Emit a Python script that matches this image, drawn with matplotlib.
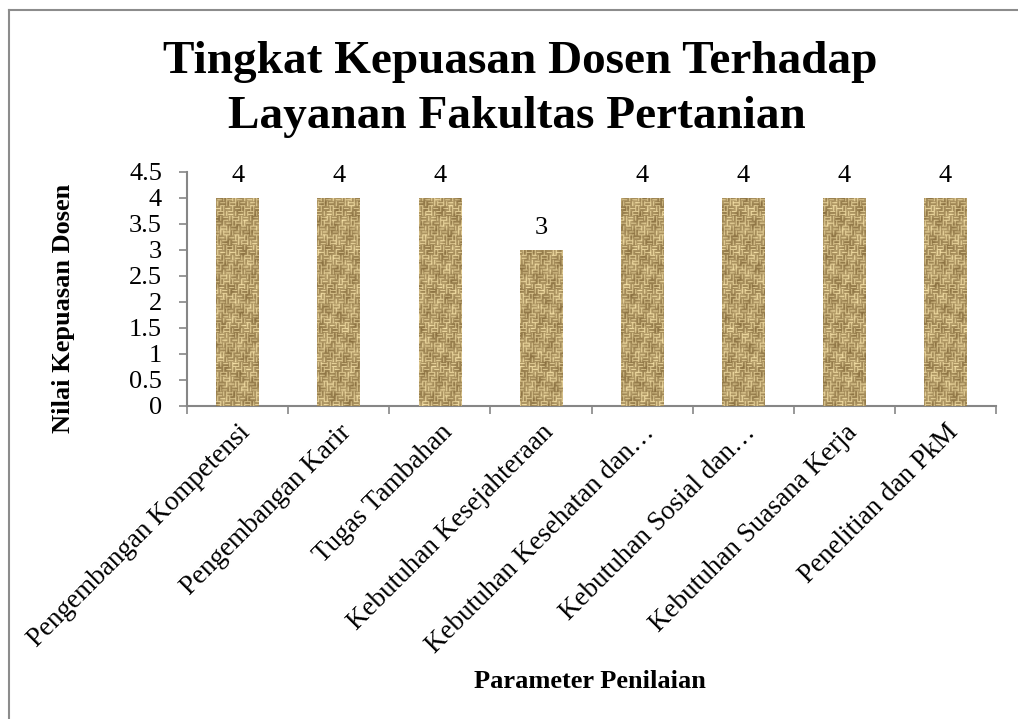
import numpy as np
import matplotlib
matplotlib.use("Agg")
import matplotlib.pyplot as plt
from matplotlib.lines import Line2D

categories = ["Pengembangan Kompetensi", "Pengembangan Karir", "Tugas Tambahan",
              "Kebutuhan Kesejahteraan", "Kebutuhan Kesehatan dan…",
              "Kebutuhan Sosial dan…", "Kebutuhan Suasana Kerja", "Penelitian dan PkM"]
values = [4, 4, 4, 3, 4, 4, 4, 4]
yticks = [0, 0.5, 1, 1.5, 2, 2.5, 3, 3.5, 4, 4.5]
ytick_labels = ["0", "0.5", "1", "1.5", "2", "2.5", "3", "3.5", "4", "4.5"]
title_lines = ["Tingkat Kepuasan Dosen Terhadap", "Layanan Fakultas Pertanian"]

plt.rcParams['font.family'] = ['Liberation Serif', 'DejaVu Serif']

W, H = 1018, 719
fig = plt.figure(figsize=(W / 100, H / 100), dpi=100)
fig.patch.set_facecolor("white")

# outer chart-area border (left and top visible)
fig.add_artist(Line2D([8.5 / W, 8.5 / W], [0, 1 - 9.5 / H], transform=fig.transFigure,
                      color="#8c8c8c", lw=1.5))
fig.add_artist(Line2D([8.5 / W, 1], [1 - 9.5 / H, 1 - 9.5 / H], transform=fig.transFigure,
                      color="#8c8c8c", lw=1.5))

ax = fig.add_axes([187 / W, 1 - 406 / H, (996 - 187) / W, (406 - 172) / H])
n = len(categories)
x = np.arange(n)
bars = ax.bar(x, values, width=0.42, color="#c8a870", edgecolor="none", zorder=2)

# woven burlap texture (deterministic pattern, purely decorative)
th, tw = 240, 820
yy, xx = np.mgrid[0:th, 0:tw].astype(float)
cell = 5
ci = (yy // cell).astype(int)
cj = ((xx + (yy // (2 * cell)) * 2) // cell).astype(int)
horiz = ((ci + cj) % 2 == 0)
stripe = np.where(horiz, (yy % 3 == 1), (xx % 3 == 1)).astype(float)
mott = (np.sin(xx * 0.37 + yy * 0.11) + np.sin(yy * 0.29 - xx * 0.13 + 1.3)
        + np.sin(xx * 0.71 + yy * 0.53 + 2.1) * 0.6 + np.sin(yy * 0.83 + xx * 0.07) * 0.5)
mott = (mott - mott.min()) / (mott.max() - mott.min())
v = 0.42 + 0.42 * stripe + 0.35 * (mott - 0.5)
v = np.clip(v, 0, 1)
dark = np.array([100, 72, 28]) / 255
light = np.array([250, 230, 172]) / 255
tex = dark[None, None, :] * (1 - v[..., None]) + light[None, None, :] * v[..., None]
for b in bars:
    im = ax.imshow(tex, extent=(-0.5, n - 0.5, 0, 4.5), aspect="auto", zorder=3,
                   interpolation="bilinear")
    im.set_clip_path(b)

for xi, v_ in zip(x, values):
    ax.text(xi, v_ + 0.31, f"{v_:g}", ha="center", va="baseline", fontsize=19, zorder=4)

ax.set_xlim(-0.5, n - 0.5)
ax.set_ylim(0, 4.5)
ax.set_yticks(yticks)
ax.set_yticklabels(ytick_labels, fontsize=19)
ax.set_xticks(np.arange(-0.5, n, 1.0))
ax.set_xticklabels([])
ax.set_xticks(x, minor=True)
ax.set_xticklabels(categories, minor=True, rotation=45, ha="right",
                   rotation_mode="anchor", fontsize=19.5)
ax.tick_params(axis="x", which="minor", length=0, pad=10)
ax.tick_params(axis="x", which="major", length=6, width=1.2, color="#868686", direction="out")
ax.tick_params(axis="y", length=6, width=1.2, color="#868686", direction="out", pad=12)
for s in ["top", "right"]:
    ax.spines[s].set_visible(False)
for s in ["left", "bottom"]:
    ax.spines[s].set_color("#868686")
    ax.spines[s].set_linewidth(1.5)

fig.text(520 / W, 1 - 73 / H, title_lines[0], ha="center", va="baseline",
         fontsize=34, fontweight="bold")
fig.text(517 / W, 1 - 128 / H, title_lines[1], ha="center", va="baseline",
         fontsize=34, fontweight="bold")
fig.text(590 / W, 1 - 688 / H, "Parameter Penilaian", ha="center", va="baseline",
         fontsize=19, fontweight="bold")
fig.text(64 / W, 1 - 308 / H, "Nilai Kepuasan Dosen", ha="center", va="center",
         rotation=90, fontsize=19, fontweight="bold")

fig.savefig("out.png", dpi=100, facecolor="white")
